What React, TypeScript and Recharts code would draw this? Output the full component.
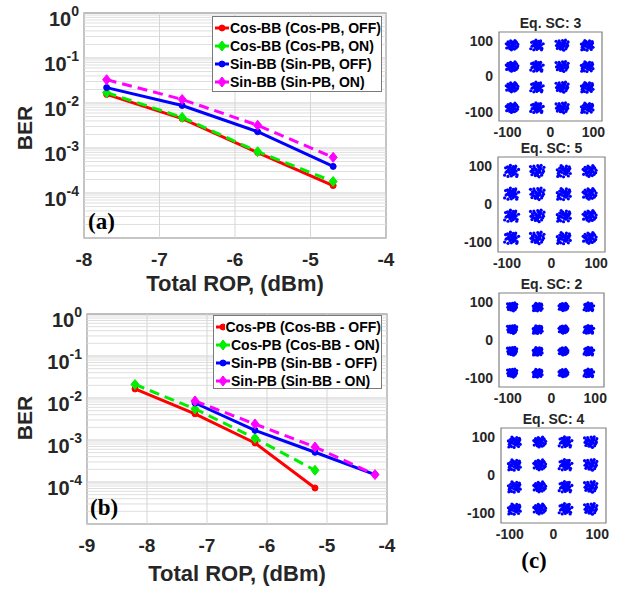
import React from "react";
import {
  LineChart,
  Line,
  XAxis,
  YAxis,
  ReferenceLine,
  ReferenceArea,
  Legend,
  ScatterChart,
  Scatter,
} from "recharts";

const FONT = '"Liberation Sans", Arial, sans-serif';
const SERIF = '"Liberation Serif", "Times New Roman", serif';

// (a) BB receivers
const ropA = [-7.7, -6.7, -5.7, -4.7];
const cosBbOff = [0.0155, 0.0045, 0.00079, 0.000146];
const cosBbOn = [0.017, 0.0048, 0.00083, 0.00018];
const sinBbOff = [0.022, 0.0088, 0.0023, 0.00039];
const sinBbOn = [0.033, 0.012, 0.0032, 0.00062];
const labelsA = [
  "Cos-BB (Cos-PB, OFF)",
  "Cos-BB (Cos-PB, ON)",
  "Sin-BB (Sin-PB, OFF)",
  "Sin-BB (Sin-PB, ON)",
];

// (b) PB receivers
const ropCosB = [-8.2, -7.2, -6.2, -5.2];
const ropSinB = [-7.2, -6.2, -5.2, -4.2];
const cosPbOff = [0.0164, 0.0042, 0.00085, 0.000072];
const cosPbOn = [0.021, 0.0055, 0.0011, 0.00019];
const sinPbOff = [0.0076, 0.0017, 0.00051, 0.00015];
const sinPbOn = [0.0085, 0.0024, 0.00068, 0.00015];
const labelsB = [
  "Cos-PB (Cos-BB - OFF)",
  "Cos-PB (Cos-BB - ON)",
  "Sin-PB (Sin-BB - OFF)",
  "Sin-PB (Sin-BB - ON)",
];

const ticksA = [-8, -7, -6, -5, -4];
const ticksB = [-9, -8, -7, -6, -5, -4];
const berTicks = [1, 0.1, 0.01, 0.001, 0.0001];
const decades = [1e-5, 1e-4, 1e-3, 1e-2, 1e-1];

// (c) constellations
const constTitles = ["Eq. SC: 3", "Eq. SC: 5", "Eq. SC: 2", "Eq. SC: 4"];
const constSpread = [1, 1.08, 0.75, 1];
const iCenters = [-90, -32, 27, 85];
const qCenters = [88, 28, -30, -88];
const constTicks = [-100, 0, 100];

const cloudA = [[0,0],[5,3],[-4,6],[8,-2],[-7,-5],[2,-9],[-10,1],[11,7],[-3,12],[6,-11],[-12,-8],[13,-4],[1,5],[-6,-1],[9,10],[-1,-13],[4,8],[-9,9],[14,2],[-13,4],[3,-5],[-5,-10],[7,13],[10,-8],[-2,-3],[3,1],[-8,3],[6,5],[0,9],[-4,-6]];
const cloudB = [[1,-1],[-6,4],[7,5],[-3,-7],[10,0],[-11,-3],[4,11],[-8,10],[12,-9],[-2,14],[0,-12],[-14,-10],[8,-6],[5,2],[-9,-1],[15,4],[-4,1],[3,-4],[-12,8],[9,12],[-7,-13],[11,-13],[2,7],[-1,-5],[-5,-2],[6,-2],[0,4],[4,-9],[-3,9],[8,8]];
const cloudC = [[-2,2],[6,-3],[-5,-6],[3,9],[-10,5],[12,3],[-7,12],[9,-10],[0,-8],[-13,-1],[14,9],[4,-14],[-4,-11],[7,6],[-11,-9],[1,13],[11,-5],[-8,1],[5,0],[-3,5],[13,-1],[-14,11],[8,14],[-1,-2],[2,-4],[-6,8],[3,3],[-9,-4],[6,10],[1,-11]];
const cloudD = [[2,1],[-4,-3],[9,4],[-8,7],[5,-8],[-11,-6],[12,10],[-2,10],[0,-14],[14,-6],[-13,3],[6,12],[-6,-12],[10,-12],[3,4],[-9,-9],[7,-1],[-5,13],[13,6],[-12,-13],[1,-6],[-1,8],[11,1],[-7,0],[4,-3],[-3,4],[8,-5],[-10,-2],[0,3],[5,7]];
const clouds = [cloudA, cloudB, cloudC, cloudD];

const RED = "#ff0000";
const GREEN = "#00ee00";
const BLUE = "#0000ff";
const MAGENTA = "#ff00ff";

type Series = { name: string; x: number[]; y: number[]; color: string; dashed: boolean; marker: "circle" | "diamond" };

const seriesA: Series[] = [
  { name: labelsA[0], x: ropA, y: cosBbOff, color: RED, dashed: false, marker: "circle" },
  { name: labelsA[1], x: ropA, y: cosBbOn, color: GREEN, dashed: true, marker: "diamond" },
  { name: labelsA[2], x: ropA, y: sinBbOff, color: BLUE, dashed: false, marker: "circle" },
  { name: labelsA[3], x: ropA, y: sinBbOn, color: MAGENTA, dashed: true, marker: "diamond" },
];
const seriesB: Series[] = [
  { name: labelsB[0], x: ropCosB, y: cosPbOff, color: RED, dashed: false, marker: "circle" },
  { name: labelsB[1], x: ropCosB, y: cosPbOn, color: GREEN, dashed: true, marker: "diamond" },
  { name: labelsB[2], x: ropSinB, y: sinPbOff, color: BLUE, dashed: false, marker: "circle" },
  { name: labelsB[3], x: ropSinB, y: sinPbOn, color: MAGENTA, dashed: true, marker: "diamond" },
];

function markerShape(color: string, marker: string, cx: number, cy: number, key?: any) {
  if (marker === "circle") return <circle key={key} cx={cx} cy={cy} r={3} fill={color} stroke={color} />;
  return (
    <path
      key={key}
      d={`M${cx},${cy - 5}L${cx + 4},${cy}L${cx},${cy + 5}L${cx - 4},${cy}Z`}
      fill={color}
      stroke={color}
    />
  );
}

function PowTick(props: any) {
  const { x, y, payload } = props;
  const e = Math.round(Math.log10(payload.value));
  return (
    <text x={x - 5} y={y + 13} textAnchor="end" fontFamily={FONT} fontWeight="bold" fontSize={20} fill="#262626">
      10
      <tspan dy={-10} fontSize={14}>{e}</tspan>
    </text>
  );
}

function LegendBox({ series }: { series: Series[] }) {
  return (
    <div style={{ border: "1px solid #7a7a7a", background: "#fff", padding: "2px 0 2px 1px", boxSizing: "border-box", width: "100%", height: "100%" }}>
      {series.map((s) => (
        <div key={s.name} style={{ display: "flex", alignItems: "center", height: 18 }}>
          <svg width={16} height={12}>
            <line x1={1} y1={6} x2={15} y2={6} stroke={s.color} strokeWidth={3} />
            {markerShape(s.color, s.marker, 8, 6)}
          </svg>
          <span style={{ fontFamily: FONT, fontWeight: "bold", fontSize: 14, color: "#000", whiteSpace: "nowrap" }}>{s.name}</span>
        </div>
      ))}
    </div>
  );
}

type BerProps = {
  top: number;
  width: number;
  height: number;
  plot: { left: number; right: number; top: number; bottom: number };
  xDomain: [number, number];
  xTicks: number[];
  series: Series[];
  legend: { left: number; top: number; width: number; height: number };
};

function BerPanel({ top, width, height, plot, xDomain, xTicks, series, legend }: BerProps) {
  const minor: number[] = [];
  decades.forEach((d) => {
    for (let k = 2; k <= 9; k++) minor.push(d * k);
  });
  return (
    <div style={{ position: "absolute", left: 0, top }}>
      <LineChart
        width={width}
        height={height}
        margin={{ top: plot.top - top, right: width - plot.right, left: 0, bottom: 0 }}
      >
        <XAxis
          dataKey="rop"
          type="number"
          domain={xDomain}
          ticks={xTicks}
          interval={0}
          allowDataOverflow
          height={top + height - plot.bottom}
          axisLine={false}
          tickLine={false}
          tickSize={0}
          tickMargin={15}
          tick={{ fontFamily: FONT, fontWeight: "bold", fontSize: 19, fill: "#262626" }}
        />
        <YAxis
          type="number"
          scale="log"
          domain={[1e-5, 1]}
          ticks={berTicks}
          interval={0}
          allowDataOverflow
          width={plot.left}
          axisLine={false}
          tickLine={false}
          tickSize={0}
          tickMargin={0}
          tick={<PowTick />}
        />
        {minor.map((v) => (
          <ReferenceLine key={"m" + v} y={v} stroke="#dfdfdf" strokeWidth={1} ifOverflow="visible" />
        ))}
        {decades.map((v) => (
          <ReferenceLine key={"d" + v} y={v} stroke="#cccccc" strokeWidth={1} ifOverflow="visible" />
        ))}
        {xTicks.map((v) => (
          <ReferenceLine key={"x" + v} x={v} stroke="#d6d6d6" strokeWidth={1} ifOverflow="visible" />
        ))}
        <ReferenceArea
          x1={xDomain[0]}
          x2={xDomain[1]}
          y1={1e-5}
          y2={1}
          fill="none"
          stroke="#7f7f7f"
          strokeWidth={1.2}
          ifOverflow="visible"
        />
        {series.map((s) => (
          <Line
            key={s.name}
            name={s.name}
            data={s.x.map((x, i) => ({ rop: x, ber: s.y[i] }))}
            dataKey="ber"
            type="linear"
            stroke={s.color}
            strokeWidth={3}
            strokeDasharray={s.dashed ? "10 6" : undefined}
            dot={(p: any) => markerShape(s.color, s.marker, p.cx, p.cy, p.index)}
            activeDot={false}
            isAnimationActive={false}
          />
        ))}
        <Legend
          layout="vertical"
          align="center"
          verticalAlign="middle"
          wrapperStyle={{ left: legend.left, top: legend.top - top, width: legend.width, height: legend.height }}
          content={() => <LegendBox series={series} />}
        />
      </LineChart>
    </div>
  );
}

type ConstProps = { idx: number; left: number; right: number; top: number; bottom: number };

function ConstPanel({ idx, left, right, top, bottom }: ConstProps) {
  const x0 = 440;
  const y0 = top - 30;
  const w = right - x0 + 6;
  const h = bottom - y0 + 28;
  const s = constSpread[idx];
  const pts: { i: number; q: number }[] = [];
  qCenters.forEach((qc, qi) => {
    iCenters.forEach((ic, ii) => {
      clouds[(qi * 4 + ii + idx) % 4].forEach(([dx, dy]) => pts.push({ i: ic + dx * s, q: qc + dy * s }));
    });
  });
  return (
    <div style={{ position: "absolute", left: x0, top: y0 }}>
      <ScatterChart width={w} height={h} margin={{ top: 30, right: 6, left: 0, bottom: 0 }}>
        <XAxis
          dataKey="i"
          type="number"
          domain={[-120, 120]}
          ticks={constTicks}
          interval={0}
          allowDataOverflow
          height={28}
          axisLine={false}
          tickLine={false}
          tickSize={0}
          tickMargin={6}
          tick={{ fontFamily: FONT, fontWeight: "bold", fontSize: 14, fill: "#262626" }}
        />
        <YAxis
          dataKey="q"
          type="number"
          domain={[-125, 125]}
          ticks={constTicks}
          interval={0}
          allowDataOverflow
          width={left - x0}
          axisLine={false}
          tickLine={false}
          tickSize={0}
          tickMargin={6}
          tick={{ fontFamily: FONT, fontWeight: "bold", fontSize: 14, fill: "#262626" }}
        />
        <ReferenceArea x1={-120} x2={120} y1={-125} y2={125} fill="none" stroke="#808080" strokeWidth={1.2} ifOverflow="visible" />
        <Scatter
          data={pts}
          isAnimationActive={false}
          shape={(p: any) => <circle cx={p.cx} cy={p.cy} r={1.6} fill={BLUE} />}
        />
      </ScatterChart>
    </div>
  );
}

const constBoxes = [
  { left: 499, right: 602, top: 32, bottom: 121 },
  { left: 498, right: 605, top: 157, bottom: 252 },
  { left: 499, right: 604, top: 293, bottom: 387 },
  { left: 501, right: 606, top: 428, bottom: 523 },
];

export default function App() {
  return (
    <div style={{ position: "absolute", left: 0, top: 0, width: 629, height: 590, background: "#fff", overflow: "hidden" }}>
      <BerPanel
        top={0}
        width={400}
        height={295}
        plot={{ left: 84, right: 386, top: 13, bottom: 238 }}
        xDomain={[-8, -4]}
        xTicks={ticksA}
        series={seriesA}
        legend={{ left: 212, top: 16, width: 170, height: 76 }}
      />
      <BerPanel
        top={295}
        width={400}
        height={295}
        plot={{ left: 87, right: 387, top: 314, bottom: 524 }}
        xDomain={[-9, -4]}
        xTicks={ticksB}
        series={seriesB}
        legend={{ left: 213, top: 315, width: 169, height: 74 }}
      />
      {constBoxes.map((b, i) => (
        <ConstPanel key={i} idx={i} {...b} />
      ))}
      <svg width={629} height={590} style={{ position: "absolute", left: 0, top: 0, pointerEvents: "none" }}>
        <g fontFamily={FONT} fontWeight="bold" fill="#262626">
          <text transform="translate(32,128) rotate(-90)" textAnchor="middle" fontSize={21}>BER</text>
          <text transform="translate(32,418) rotate(-90)" textAnchor="middle" fontSize={21}>BER</text>
          <text x={235} y={291} textAnchor="middle" fontSize={22}>Total ROP, (dBm)</text>
          <text x={237} y={581} textAnchor="middle" fontSize={22}>Total ROP, (dBm)</text>
          {constBoxes.map((b, i) => (
            <text key={i} x={(b.left + b.right) / 2} y={b.top - 4} textAnchor="middle" fontSize={14}>
              {constTitles[i]}
            </text>
          ))}
        </g>
        <g fontFamily={SERIF} fontWeight="bold" fill="#000" fontSize={23}>
          <text x={88} y={229}>(a)</text>
          <text x={90} y={515}>(b)</text>
          <text x={534} y={568} textAnchor="middle">(c)</text>
        </g>
      </svg>
    </div>
  );
}
